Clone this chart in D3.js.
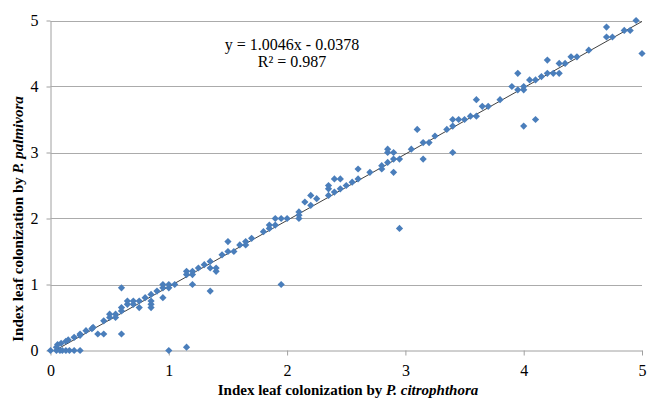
<!DOCTYPE html>
<html>
<head>
<meta charset="utf-8">
<title>colonization</title>
<style>
body { margin: 0; background: #fff; }
svg text { font-family: "Liberation Serif", "Times New Roman", serif; fill: #000; }
</style>
</head>
<body>
<svg width="647" height="400"></svg>
<script src="https://d3js.org/d3.v7.min.js"></script>
<script>
// index leaf colonization: P. citrophthora (x) vs P. palmivora (y)
var xTicks = [0, 1, 2, 3, 4, 5];
var yTicks = [0, 1, 2, 3, 4, 5];
var slope = 1.0046, intercept = -0.0378;
var eqLabel = "y = 1.0046x - 0.0378";
var r2Label = "R\u00b2 = 0.987";

var citro = [0,0.05,0.08,0.1,0.13,0.16,0.2,0.25,
  0.05,0.06,0.09,0.13,0.15,0.2,0.25,0.25,0.3,0.35,0.36,
  0.4,0.45,0.45,0.5,0.5,0.55,0.55,0.6,0.6,0.6,0.6,
  0.65,0.65,0.7,0.7,0.75,0.75,0.8,0.85,0.85,0.85,0.85,0.9,0.95,0.95,0.95,1.0,1.0,1.0,1.05,
  1.15,1.15,1.15,1.2,1.2,1.2,1.25,1.3,1.35,1.35,1.35,1.4,1.4,
  1.45,1.5,1.5,1.55,1.6,1.65,1.65,1.7,1.8,1.85,1.85,1.9,1.9,1.95,1.95,2.0,
  2.1,2.1,2.1,2.15,2.2,2.2,2.25,
  2.35,2.35,2.35,2.4,2.4,2.45,2.45,2.5,2.55,2.6,2.6,2.7,2.8,2.8,2.85,2.85,2.85,2.9,2.9,2.9,2.95,2.95,
  3.05,3.1,3.15,3.15,3.2,3.25,3.35,3.4,3.4,3.4,3.45,3.5,3.55,3.6,3.6,3.65,3.7,3.8,
  3.9,3.95,3.95,4.0,4.0,4.0,4.05,4.1,4.1,4.15,4.2,4.2,4.25,4.3,4.3,4.35,4.4,4.45,4.55,4.7,4.7,4.75,4.85,4.9,4.95,5.0];
var palmi = [0,0,0,0,0,0,0,0,
  0.05,0.09,0.11,0.14,0.16,0.2,0.23,0.25,0.3,0.33,0.35,
  0.25,0.25,0.45,0.55,0.5,0.5,0.55,0.6,0.65,0.25,0.95,
  0.7,0.75,0.75,0.7,0.65,0.75,0.8,0.65,0.7,0.75,0.85,0.9,0.8,0.95,1.0,0.95,1.0,0,1.0,
  0.05,1.2,1.15,1.0,1.15,1.2,1.25,1.3,0.9,1.35,1.25,1.25,1.2,
  1.45,1.65,1.5,1.5,1.6,1.65,1.6,1.7,1.8,1.9,1.85,2.0,1.9,2.0,1.0,2.0,
  2.0,2.05,2.1,2.25,2.35,2.2,2.3,
  2.35,2.45,2.5,2.4,2.6,2.6,2.45,2.5,2.55,2.6,2.75,2.7,2.75,2.8,2.85,3.0,3.05,2.9,3.0,2.7,2.9,1.85,
  3.05,3.35,3.15,2.9,3.15,3.25,3.35,3.4,3.5,3.0,3.5,3.5,3.55,3.55,3.8,3.7,3.7,3.8,
  4.0,3.95,4.2,3.95,4.0,3.4,4.1,4.1,3.5,4.15,4.2,4.4,4.2,4.2,4.35,4.35,4.45,4.45,4.55,4.75,4.9,4.75,4.85,4.85,5.0,4.5];

var points = citro.map(function(v, i) { return {x: v, y: palmi[i]}; });

var svg = d3.select("svg");
var x = d3.scaleLinear().domain([0, 5]).range([50.5, 642]);
var y = d3.scaleLinear().domain([0, 5]).range([350.5, 20.5]);

var xAxis = svg.append("g")
  .attr("transform", "translate(0," + y(0) + ")")
  .call(d3.axisBottom(x).tickValues(xTicks).tickFormat(d3.format("d"))
    .tickSize(5).tickSizeOuter(0).tickPadding(9));
var yAxis = svg.append("g")
  .attr("transform", "translate(" + x(0) + ",0)")
  .call(d3.axisLeft(y).tickValues(yTicks).tickFormat(d3.format("d"))
    .tickSize(4).tickSizeOuter(0).tickPadding(8));

[xAxis, yAxis].forEach(function(g) {
  g.selectAll(".domain, .tick line").attr("stroke", "#a0a0a0");
  g.selectAll("text").style("font-size", "16px")
    .style("font-family", "Liberation Serif").attr("fill", "#000");
});

// gridlines as 1px rects
svg.append("g")
  .selectAll("rect").data(yTicks.slice(1))
  .enter().append("rect")
    .attr("x", x(0)).attr("width", x(5) - x(0))
    .attr("y", function(d) { return Math.round(y(d)); })
    .attr("height", 1)
    .attr("fill", "#ababab");

// trendline, clipped where it would drop under zero
var x0 = -intercept / slope;
svg.append("line")
  .attr("x1", x(x0)).attr("y1", y(slope * x0 + intercept))
  .attr("x2", x(5)).attr("y2", y(slope * 5 + intercept))
  .attr("stroke", "#404040").attr("stroke-width", 1);

var marker = d3.symbol().type(d3.symbolSquare).size(26);
svg.append("g")
  .selectAll("path").data(points)
  .enter().append("path")
    .attr("d", marker)
    .attr("transform", function(d) { return "translate(" + x(d.x) + "," + y(d.y) + ") rotate(45)"; })
    .attr("fill", "#4a7ebb");

svg.append("text").attr("x", 292).attr("y", 50)
  .attr("text-anchor", "middle").style("font-size", "16px").text(eqLabel);
svg.append("text").attr("x", 292).attr("y", 67)
  .attr("text-anchor", "middle").style("font-size", "16px").text(r2Label);

// axis titles
var xt = svg.append("text").attr("x", 348).attr("y", 395)
  .attr("text-anchor", "middle").style("font-size", "15px").style("font-weight", "bold");
xt.append("tspan").text("Index leaf colonization by ");
xt.append("tspan").style("font-style", "italic").text("P. citrophthora");

var yt = svg.append("text")
  .attr("transform", "translate(23,219) rotate(-90)")
  .attr("text-anchor", "middle").style("font-size", "15px").style("font-weight", "bold");
yt.append("tspan").text("Index leaf colonization by ");
yt.append("tspan").style("font-style", "italic").text("P. palmivora");
</script>
</body>
</html>
